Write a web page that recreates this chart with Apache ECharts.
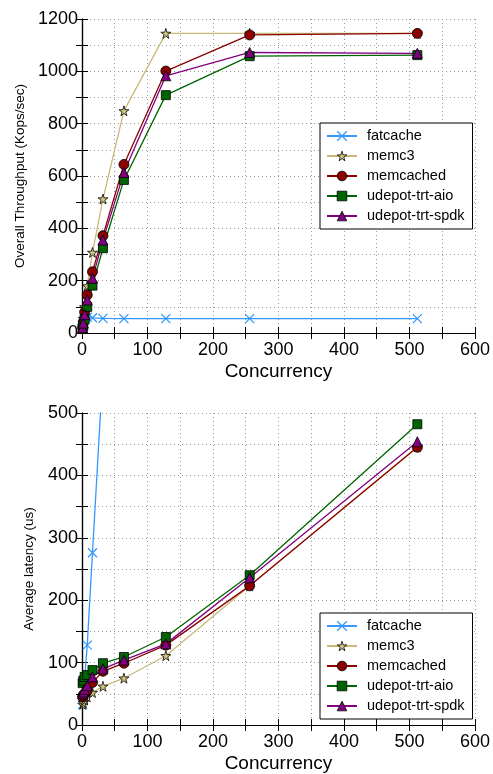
<!DOCTYPE html>
<html>
<head>
<meta charset="utf-8">
<script src="https://cdn.jsdelivr.net/npm/echarts@6/dist/echarts.min.js"></script>
<style>
  html, body { margin: 0; padding: 0; background: #fff; }
  #chart { width: 493px; height: 774px; }
</style>
</head>
<body>
<div id="chart"></div>
<script>
// Concurrency levels (x values shared by both panels)
const concurrency = [1, 2, 4, 8, 16, 32, 64, 128, 256, 512];

// Overall throughput, Kops/sec
const fatcacheKops = [30, 45, 55, 60, 58, 56, 55, 55, 55, 55];
const memc3Kops = [30, 55, 100, 180, 308, 512, 849, 1145, 1145, 1145];
const memcachedKops = [22, 42, 80, 145, 234, 372, 644, 1001, 1139, 1145];
const aioKops = [15, 28, 52, 100, 181, 324, 585, 909, 1058, 1062];
const spdkKops = [20, 38, 70, 126, 209, 355, 613, 983, 1072, 1069];

// Average latency, us
const fatcacheLatency = [33, 44, 73, 128, 276, 570, 1160, 2330, 4650, 9300];
const memc3Latency = [33, 36, 40, 45, 52, 62, 75, 111, 223, 446];
const memcachedLatency = [45, 48, 50, 55, 68, 86, 99, 128, 223, 445];
const aioLatency = [67, 71, 77, 80, 88, 99, 109, 141, 240, 482];
const spdkLatency = [50, 53, 57, 63, 77, 90, 104, 130, 236, 454];

const seriesNames = ['fatcache', 'memc3', 'memcached', 'udepot-trt-aio', 'udepot-trt-spdk'];

const FONT = 'Liberation Sans, Arial, Helvetica, sans-serif';
const STAR = 'path://M50,0 L61,35 L98,35 L68,57 L79,91 L50,70 L21,91 L32,57 L2,35 L39,35 Z';
const CROSS = 'path://M0,0 L10,10 M10,0 L0,10';

const styles = [
  { color: '#3399ff', symbol: CROSS, size: 9, border: '#3399ff', bw: 1.3 },
  { color: '#d2c57d', line: '#c8b97a', symbol: STAR, size: 10, border: '#000', bw: 0.8 },
  { color: '#8b0000', symbol: 'circle', size: 10, border: '#000', bw: 0.8 },
  { color: '#006400', symbol: 'rect', size: 9, border: '#000', bw: 0.8 },
  { color: '#800080', symbol: 'triangle', size: 10, border: '#000', bw: 0.8 }
];

function pairs(ys) {
  return concurrency.map((x, i) => [x, ys[i]]);
}

function makeSeries(values, xIdx, yIdx) {
  return values.map((ys, i) => {
    const s = styles[i];
    return {
      name: seriesNames[i],
      type: 'line',
      xAxisIndex: xIdx,
      yAxisIndex: yIdx,
      data: pairs(ys),
      symbol: s.symbol,
      symbolSize: s.size,
      showAllSymbol: true,
      clip: true,
      lineStyle: { color: s.line || s.color, width: 1.3 },
      itemStyle: { color: s.color, borderColor: s.border, borderWidth: s.bw },
      emphasis: { disabled: true },
      animation: false
    };
  });
}

const axisLine = { show: true, lineStyle: { color: '#000', width: 1.2 } };
const tickStyle = { show: true, inside: true, length: 6, lineStyle: { color: '#000', width: 1 } };
const gridLines = { show: true, lineStyle: { color: '#999', type: [1, 3], width: 1 } };

function xAxes(gridIndex, name) {
  return [
    {
      type: 'value', gridIndex, position: 'bottom', min: 0, max: 600, interval: 50,
      name, nameLocation: 'middle', nameGap: 29,
      nameTextStyle: { fontFamily: FONT, fontSize: 19, color: '#000' },
      axisLine, axisTick: tickStyle, splitLine: gridLines,
      axisLabel: {
        fontFamily: FONT, fontSize: 18, color: '#000', margin: 8,
        formatter: v => (v % 100 === 0 ? String(v) : '')
      }
    },
    {
      type: 'value', gridIndex, position: 'top', min: 0, max: 600, interval: 50,
      axisLine, axisTick: tickStyle, splitLine: { show: false }, axisLabel: { show: false }
    }
  ];
}

function yAxes(gridIndex, max, interval, labelStep, name, nameGap) {
  return [
    {
      type: 'value', gridIndex, position: 'left', min: 0, max, interval,
      name, nameLocation: 'middle', nameGap,
      nameTextStyle: { fontFamily: FONT, fontSize: 13.5, color: '#000' },
      axisLine, axisTick: tickStyle, splitLine: gridLines,
      axisLabel: {
        fontFamily: FONT, fontSize: 18, color: '#000', margin: 4,
        formatter: v => (v % labelStep === 0 ? String(v) : '')
      }
    },
    {
      type: 'value', gridIndex, position: 'right', min: 0, max, interval,
      axisLine, axisTick: tickStyle, splitLine: { show: false }, axisLabel: { show: false }
    }
  ];
}

function legendAt(top) {
  return {
    orient: 'vertical',
    left: 320,
    top,
    data: seriesNames.map((name, i) => ({
      name,
      itemStyle: {
        color: styles[i].color,
        borderColor: styles[i].border,
        borderWidth: styles[i].bw
      }
    })),
    backgroundColor: '#fff',
    borderColor: '#000',
    borderWidth: 1,
    borderRadius: 0,
    padding: [5, 8, 5, 6],
    itemWidth: 30,
    itemHeight: 12,
    itemGap: 4,
    selectedMode: false,
    textStyle: {
      fontFamily: FONT, fontSize: 14.5, color: '#000', lineHeight: 16,
      padding: [0, 0, 0, 5]
    }
  };
}

const chart = echarts.init(document.getElementById('chart'), null, { renderer: 'canvas' });

chart.setOption({
  backgroundColor: '#fff',
  animation: false,
  grid: [
    { left: 82, right: 17, top: 19, height: 314 },
    { left: 82, right: 17, top: 413, height: 313 }
  ],
  xAxis: [...xAxes(0, 'Concurrency'), ...xAxes(1, 'Concurrency')],
  yAxis: [
    ...yAxes(0, 1200, 100, 200, 'Overall Throughput (Kops/sec)', 55),
    ...yAxes(1, 500, 50, 100, 'Average latency (us)', 46)
  ],
  legend: [legendAt(123), legendAt(613)],
  series: [
    ...makeSeries([fatcacheKops, memc3Kops, memcachedKops, aioKops, spdkKops], 0, 0),
    ...makeSeries([fatcacheLatency, memc3Latency, memcachedLatency, aioLatency, spdkLatency], 2, 2)
  ]
});
</script>
</body>
</html>
